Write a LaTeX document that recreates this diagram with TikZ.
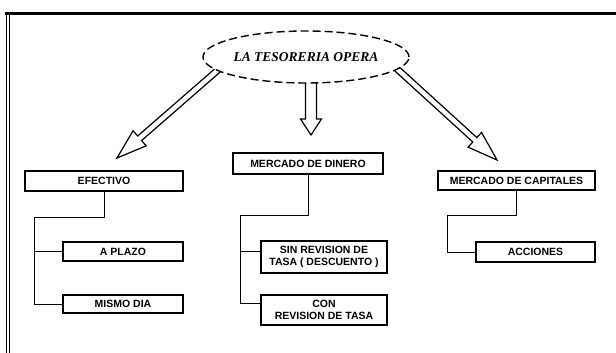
\documentclass[tikz,border=0pt]{standalone}
\usepackage{fontspec}
\setmainfont{Liberation Sans}
\newfontfamily\titlefont{Liberation Serif}
\usetikzlibrary{calc,shapes.geometric}
\pgfdeclarelayer{bg}
\pgfsetlayers{bg,main}
\newcommand\hollowarr[5]{% #1 start, #2 tip, #3 shaft half width, #4 head half width, #5 head length
  \coordinate (hb) at ($(#2)!#5!(#1)$);
  \draw[harrow] ($(#1)!#3!90:(#2)$) -- ($(hb)!#3!90:(#2)$) -- ($(hb)!#4!90:(#2)$) -- (#2)
    -- ($(hb)!#4!-90:(#2)$) -- ($(hb)!#3!-90:(#2)$) -- ($(#1)!#3!-90:(#2)$);
}
\begin{document}
\begin{tikzpicture}[x=1pt,y=-1pt,
  box/.style={draw, line width=1.1pt, inner sep=0pt, align=center,
    font=\fontsize{10.5}{11.5}\selectfont\bfseries},
  conn/.style={line width=0.9pt},
  harrow/.style={line width=1.2pt, line join=miter, fill=white},
  frame/.style={line width=1pt},
]
\useasboundingbox (0,0) rectangle (616,353);
% frame
\draw[line width=2.5pt] (5,13.5) -- (616,13.5);
\draw[frame] (6,13) -- (6,353);
\draw[frame] (9.5,13) -- (9.5,353);

% title
\node[ellipse, draw, line width=1.4pt, dash pattern=on 8pt off 4pt, fill=white,
  minimum width=206pt, minimum height=52pt, inner sep=0pt,
  font=\titlefont\fontsize{13.5}{15}\selectfont\bfseries\itshape] (top) at (306,57) {LA TESORERIA OPERA};

% boxes
\node[box, minimum width=158pt, minimum height=20pt] (efe) at (104,181) {EFECTIVO};
\node[box, minimum width=150pt, minimum height=21pt] (din) at (308,163.5) {MERCADO DE DINERO};
\node[box, minimum width=157pt, minimum height=19pt] (cap) at (516.5,180.5) {MERCADO DE CAPITALES};
\node[box, minimum width=120pt, minimum height=19pt] (apl) at (123,251.5) {A PLAZO};
\node[box, minimum width=120pt, minimum height=18pt] (mis) at (123,304) {MISMO DIA};
\node[box, minimum width=126pt, minimum height=32pt] (sin) at (324,257) {SIN REVISION DE\\TASA ( DESCUENTO )};
\node[box, minimum width=126pt, minimum height=30pt] (con) at (324,310) {CON\\REVISION DE TASA};
\node[box, minimum width=119pt, minimum height=20pt] (acc) at (535.5,252) {ACCIONES};

% arrows
\coordinate (sL) at (226,63);
\coordinate (tL) at (117,158);
\coordinate (sM) at (311,70);
\coordinate (tM) at (311,135);
\coordinate (sR) at (390,62.5);
\coordinate (tR) at (497,160);
\begin{pgfonlayer}{bg}
\hollowarr{sL}{tL}{3pt}{10pt}{30pt}
\hollowarr{sM}{tM}{5.5pt}{10.5pt}{16pt}
\hollowarr{sR}{tR}{3pt}{10pt}{30pt}
\end{pgfonlayer}

% connectors
\coordinate (eL) at (34,217);
\draw[conn] (efe.south) |- (eL) |- (mis.west);
\draw[conn] (eL |- apl.west) -- (apl.west);

\coordinate (dL) at (240,215);
\coordinate (sinIn) at ([yshift=6pt]sin.west);
\coordinate (conIn) at ([yshift=7pt]con.west);
\draw[conn] (din.south) |- (dL) |- (conIn);
\draw[conn] (sinIn -| dL) -- (sinIn);

\coordinate (cL) at (447,215);
\draw[conn] (cap.south) |- (cL) |- (acc.west);
\end{tikzpicture}
\end{document}
